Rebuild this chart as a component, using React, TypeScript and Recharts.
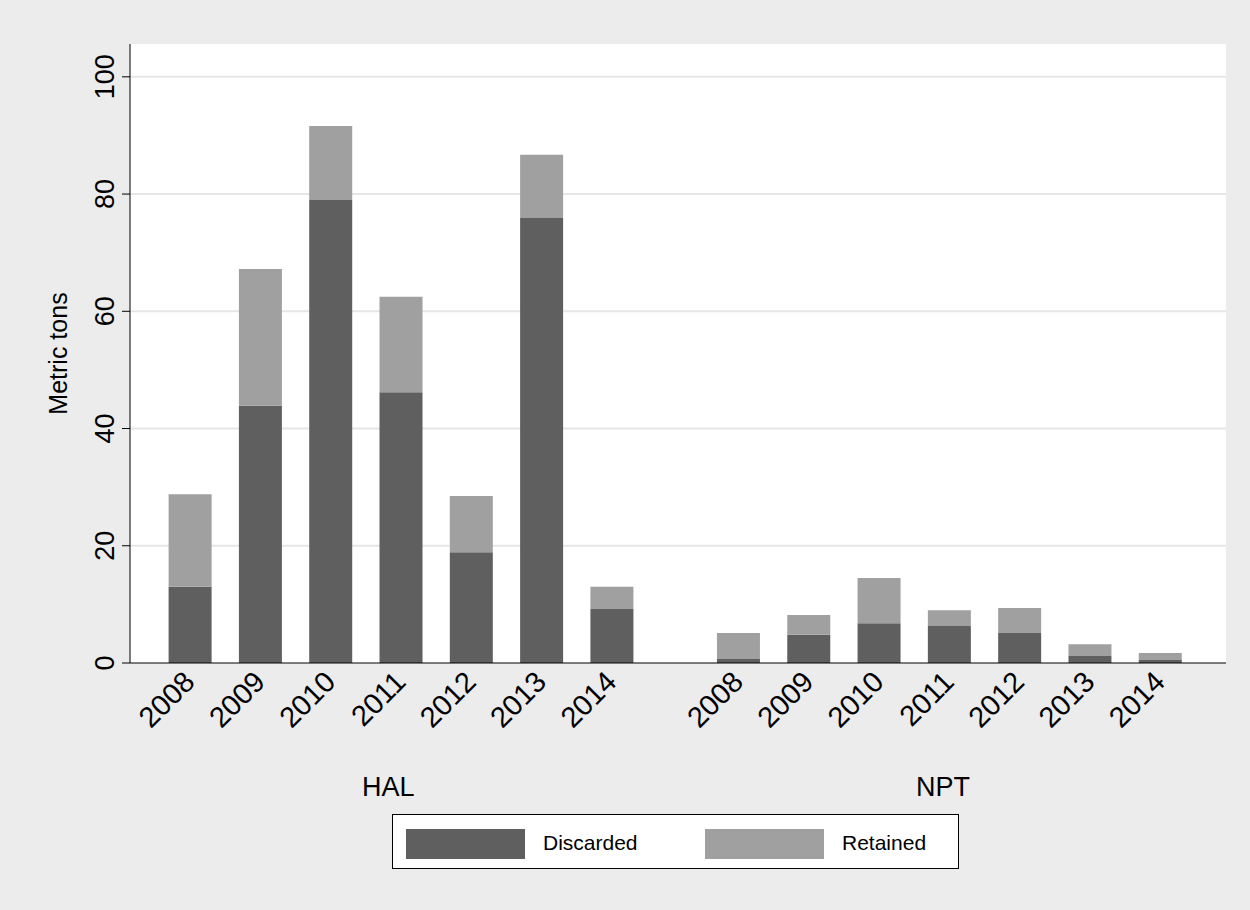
import React from "react";
import { ComposedChart, Bar, XAxis, YAxis, CartesianGrid } from "recharts";

const years = ["2008", "2009", "2010", "2011", "2012", "2013", "2014"];
const halDiscarded = [13.0, 43.9, 79.0, 46.2, 18.9, 75.9, 9.2];
const halTotal = [28.8, 67.2, 91.6, 62.5, 28.5, 86.7, 13.0];
const nptDiscarded = [0.7, 4.8, 6.8, 6.3, 5.1, 1.2, 0.5];
const nptTotal = [5.1, 8.2, 14.5, 9.0, 9.4, 3.2, 1.7];
const halPos = [1, 2, 3, 4, 5, 6, 7];
const nptPos = [8.8, 9.8, 10.8, 11.8, 12.8, 13.8, 14.8];
const yTicks = [0, 20, 40, 60, 80, 100];

const data = [
  ...years.map((y, i) => ({ pos: halPos[i], year: y, discarded: halDiscarded[i], retained: +(halTotal[i] - halDiscarded[i]).toFixed(2) })),
  ...years.map((y, i) => ({ pos: nptPos[i], year: y, discarded: nptDiscarded[i], retained: +(nptTotal[i] - nptDiscarded[i]).toFixed(2) })),
];
const labelOf: Record<string, string> = {};
data.forEach((d) => (labelOf[String(d.pos)] = d.year));

const font = "'Liberation Sans', Arial, sans-serif";

const XTick = (p: any) => {
  const { x, y, payload } = p;
  return (
    <g transform={`translate(${x},${y})`}>
      <text transform="translate(-8,-2) rotate(-45)" textAnchor="end" dominantBaseline="hanging" fontSize={29} fontFamily={font} fill="#000">
        {labelOf[String(payload.value)]}
      </text>
    </g>
  );
};
const YTick = (p: any) => {
  const { x, y, payload } = p;
  return (
    <text transform={`translate(${x - 6},${y}) rotate(-90)`} textAnchor="middle" fontSize={27} fontFamily={font} fill="#000">
      {payload.value}
    </text>
  );
};

export default function App() {
  return (
    <div style={{ position: "absolute", left: 0, top: 0, width: 1250, height: 910, background: "#ececec", fontFamily: font }}>
      <ComposedChart width={1250} height={910} data={data} margin={{ top: 44, right: 24, left: 0, bottom: 0 }}>
        <CartesianGrid vertical={false} horizontalValues={[20, 40, 60, 80, 100]} stroke="#e6e6e6" strokeWidth={2} fill="#ffffff" />
        <XAxis type="number" dataKey="pos" domain={[0.15, 15.74]} ticks={[...halPos, ...nptPos]} height={247} tick={<XTick />} tickLine={false} stroke="#000" interval={0} allowDecimals />
        <YAxis domain={[0, 105.6]} ticks={yTicks} width={130} tick={<YTick />} tickSize={8} stroke="#000"
          label={{ value: "Metric tons", angle: -90, position: "insideLeft", offset: 58, style: { fontSize: 25, fontFamily: font, fill: "#000", textAnchor: "middle" } }} />
        <Bar dataKey="discarded" stackId="a" fill="#5f5f5f" barSize={43} isAnimationActive={false} />
        <Bar dataKey="retained" stackId="a" fill="#a0a0a0" barSize={43} isAnimationActive={false} />
      </ComposedChart>
      <div style={{ position: "absolute", left: 362, top: 772, fontSize: 27 }}>HAL</div>
      <div style={{ position: "absolute", left: 916, top: 772, fontSize: 27 }}>NPT</div>
      <div style={{ position: "absolute", left: 392, top: 814, width: 567, height: 55, background: "#fff", border: "1px solid #000", boxSizing: "border-box" }}>
        <div style={{ position: "absolute", left: 13, top: 14, width: 119, height: 30, background: "#5f5f5f" }} />
        <div style={{ position: "absolute", left: 150, top: 16, fontSize: 21 }}>Discarded</div>
        <div style={{ position: "absolute", left: 312, top: 14, width: 119, height: 30, background: "#a0a0a0" }} />
        <div style={{ position: "absolute", left: 449, top: 16, fontSize: 21 }}>Retained</div>
      </div>
    </div>
  );
}
